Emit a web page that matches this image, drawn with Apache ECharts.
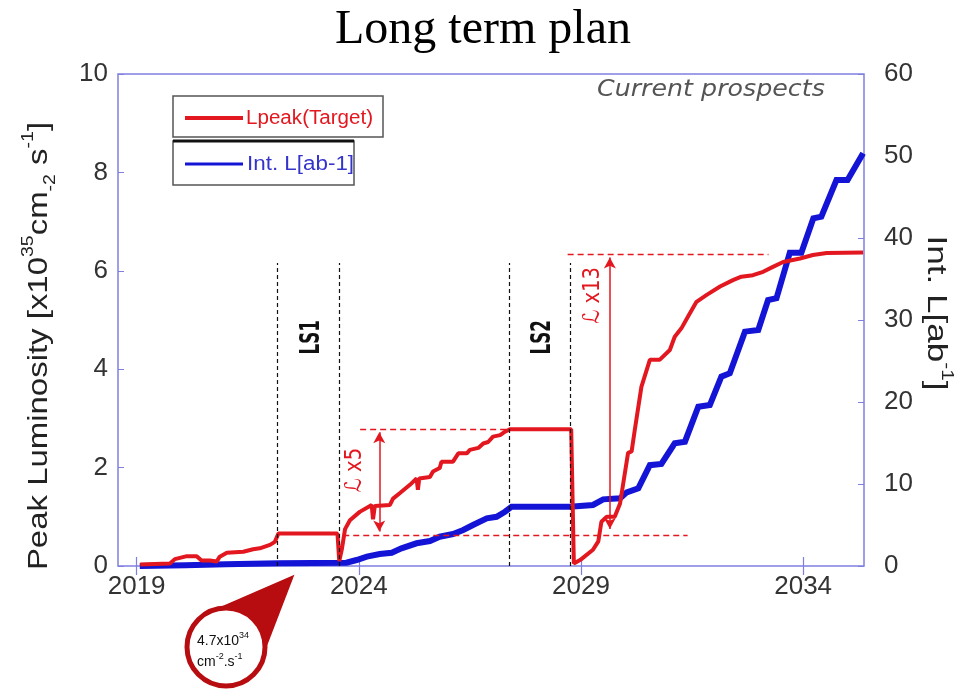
<!DOCTYPE html>
<html>
<head>
<meta charset="utf-8">
<script src="https://cdn.jsdelivr.net/npm/echarts@6/dist/echarts.min.js"></script>
<style>
  html, body { margin: 0; padding: 0; background: #ffffff; }
  #main { width: 966px; height: 692px; }
</style>
</head>
<body>
<div id="main"></div>
<script>
// Peak luminosity target (x10^35 cm^-2 s^-1) versus calendar year
const lpeakYears = [
  2019.08, 2019.75, 2019.86, 2020.13, 2020.35, 2020.46, 2020.65, 2020.80, 2020.87, 2021.03,
  2021.40, 2021.62, 2021.77, 2022.00, 2022.11, 2022.19, 2023.52, 2023.56, 2023.62, 2023.69,
  2023.80, 2024.02, 2024.29, 2024.32, 2024.36, 2024.70, 2024.77, 2024.92, 2025.15, 2025.30,
  2025.33, 2025.36, 2025.60, 2025.67, 2025.82, 2025.86, 2026.12, 2026.24, 2026.43, 2026.50,
  2026.69, 2026.80, 2026.91, 2027.02, 2027.18, 2027.29, 2027.40, 2028.78, 2028.84, 2028.98,
  2029.27, 2029.39, 2029.46, 2029.58, 2029.76, 2029.88, 2029.99, 2030.06, 2030.14, 2030.21,
  2030.36, 2030.55, 2030.77, 2031.00, 2031.11, 2031.26, 2031.41, 2031.60, 2031.83, 2032.13,
  2032.42, 2032.61, 2032.87, 2033.10, 2033.32, 2033.55, 2033.93, 2034.22, 2034.53, 2035.35
];
const lpeakValues = [
  0.03, 0.05, 0.14, 0.20, 0.20, 0.11, 0.11, 0.09, 0.19, 0.27,
  0.29, 0.34, 0.36, 0.43, 0.49, 0.66, 0.66, 0.10, 0.35, 0.75,
  0.93, 1.10, 1.24, 0.95, 1.22, 1.24, 1.37, 1.48, 1.65, 1.78,
  1.55, 1.78, 1.81, 1.92, 1.99, 2.12, 2.12, 2.29, 2.29, 2.36,
  2.40, 2.49, 2.52, 2.63, 2.66, 2.73, 2.78, 2.78, 0.05, 0.12,
  0.33, 0.50, 0.90, 1.00, 1.00, 1.27, 1.90, 2.30, 2.33, 2.76,
  3.64, 4.19, 4.19, 4.39, 4.66, 4.83, 5.07, 5.37, 5.51, 5.68,
  5.81, 5.88, 5.91, 5.98, 6.08, 6.18, 6.25, 6.32, 6.36, 6.37
];

// Integrated luminosity (ab^-1) versus calendar year
const intLYears = [
  2019.07, 2020.10, 2021.00, 2022.20, 2023.72, 2023.95, 2024.18, 2024.47, 2024.74, 2024.96,
  2025.30, 2025.60, 2025.82, 2026.12, 2026.35, 2026.57, 2026.88, 2027.10, 2027.29, 2027.44,
  2028.75, 2029.27, 2029.50, 2029.88, 2030.03, 2030.29, 2030.55, 2030.81, 2031.11, 2031.34,
  2031.64, 2031.90, 2032.16, 2032.35, 2032.69, 2032.99, 2033.21, 2033.40, 2033.70, 2033.96,
  2034.23, 2034.41, 2034.75, 2035.00, 2035.35
];
const intLValues = [
  0.0, 0.1, 0.2, 0.35, 0.4, 0.73, 1.14, 1.46, 1.62, 2.16,
  2.77, 3.05, 3.57, 3.90, 4.39, 5.00, 5.81, 6.00, 6.62, 7.23,
  7.23, 7.44, 8.13, 8.25, 8.98, 9.47, 12.3, 12.44, 14.96, 15.16,
  19.43, 19.63, 23.09, 23.5, 28.58, 28.78, 32.44, 32.65, 38.2, 38.2,
  42.4, 42.6, 47.07, 47.07, 50.33
];

// Axis ticks
const yearTicks = [2019, 2024, 2029, 2034];
const peakTicks = [0, 2, 4, 6, 8, 10];
const intTicks = [0, 10, 20, 30, 40, 50, 60];

// Long shutdowns: [start, end] years and their names
const shutdownStarts = [2022.16, 2027.38];
const shutdownEnds = [2023.55, 2028.75];
const shutdownNames = ['LS1', 'LS2'];
const shutdownLineTop = 6.16;

// Gain annotations (peak luminosity levels)
const referencePeak = 0.63;
const gainNames = ['\u2112 x5', '\u2112 x13'];
const gainPeaks = [2.78, 6.33];
const gainArrowYears = [2024.46, 2029.65];

const RED = '#e3171f';
const BLUE = '#1414d6';
const FRAME = '#7f7fe2';
const SANS = 'Liberation Sans, Arial, sans-serif';

const zip = (xs, ys) => xs.map((x, i) => [x, ys[i]]);

const chart = echarts.init(document.getElementById('main'));

const dashedRed = { type: [6, 4], color: RED, width: 1.4, opacity: 1 };
const arrowRed = { type: 'solid', color: RED, width: 1.5, opacity: 1 };
const dashedBlack = { type: [4, 3], color: '#111', width: 1.2 };

const levelLine = (x0, x1, y) => [
  { coord: [x0, y], lineStyle: dashedRed },
  { coord: [x1, y], lineStyle: dashedRed }
];
const arrowLine = (x, y0, y1) => [
  { coord: [x, y0], symbol: 'arrow', lineStyle: arrowRed, itemStyle: { color: RED } },
  { coord: [x, y1], symbol: 'arrow', lineStyle: arrowRed, itemStyle: { color: RED } }
];

// Horizontal reference levels and gain arrows (peak-luminosity axis)
const gainLines = [
  levelLine(2024.03, 2027.40, gainPeaks[0]),
  levelLine(2023.65, 2031.40, referencePeak),
  levelLine(2028.70, 2033.22, gainPeaks[1]),
  arrowLine(gainArrowYears[0], 0.70, 2.72),
  arrowLine(gainArrowYears[1], 0.75, 6.27)
];

// Shutdown boundaries (drawn on the integrated-luminosity axis, 6 units per peak unit)
const shutdownLines = shutdownStarts.concat(shutdownEnds).map(yr =>
  [{ coord: [yr, 0] }, { coord: [yr, shutdownLineTop * 6] }]
);

const xAxisBase = {
  type: 'value',
  min: 2018.58,
  max: 2035.37,
  axisLine: { show: false },
  splitLine: { show: false }
};

const option = {
  animation: false,
  backgroundColor: '#ffffff',
  title: {
    text: 'Long term plan',
    left: 'center',
    top: 1,
    textStyle: { fontFamily: 'Liberation Serif, Times New Roman, serif', fontSize: 48, fontWeight: 'normal', color: '#000' }
  },
  grid: {
    left: 118, right: 102, top: 74, bottom: 126,
    show: true, borderColor: FRAME, borderWidth: 1.5, backgroundColor: 'transparent'
  },
  xAxis: [
    Object.assign({}, xAxisBase, {
      position: 'bottom',
      axisTick: { show: true, inside: true, length: 9, customValues: yearTicks, lineStyle: { color: FRAME, width: 1.2 } },
      axisLabel: { customValues: yearTicks, formatter: v => String(v), fontSize: 26, fontFamily: SANS, color: '#333', margin: 8 }
    }),
    Object.assign({}, xAxisBase, {
      position: 'top',
      axisTick: { show: true, inside: true, length: 9, customValues: yearTicks, lineStyle: { color: FRAME, width: 1.2 } },
      axisLabel: { show: false }
    })
  ],
  yAxis: [
    {
      type: 'value', position: 'left', min: 0, max: 10, interval: 2,
      axisLine: { show: false }, splitLine: { show: false },
      axisTick: { show: true, inside: true, length: 6, customValues: peakTicks, lineStyle: { color: FRAME } },
      axisLabel: { customValues: peakTicks, fontSize: 26, fontFamily: SANS, color: '#333', margin: 10 }
    },
    {
      type: 'value', position: 'right', min: 0, max: 60, interval: 10,
      axisLine: { show: false }, splitLine: { show: false },
      axisTick: { show: true, inside: true, length: 6, customValues: intTicks, lineStyle: { color: FRAME } },
      axisLabel: { customValues: intTicks, fontSize: 26, fontFamily: SANS, color: '#333', margin: 20 }
    }
  ],
  series: [
    {
      name: 'Int. L[ab-1]',
      type: 'line',
      xAxisIndex: 0,
      yAxisIndex: 1,
      data: zip(intLYears, intLValues),
      showSymbol: false,
      symbol: 'none',
      lineStyle: { color: BLUE, width: 6, join: 'miter' },
      z: 2,
      markLine: {
        silent: true,
        symbol: 'none',
        label: { show: false },
        lineStyle: dashedBlack,
        data: shutdownLines
      }
    },
    {
      name: 'Lpeak(Target)',
      type: 'line',
      xAxisIndex: 0,
      yAxisIndex: 0,
      data: zip(lpeakYears, lpeakValues),
      showSymbol: false,
      symbol: 'none',
      lineStyle: { color: RED, width: 4 },
      z: 3,
      markLine: {
        silent: true,
        symbol: 'none',
        symbolSize: [9, 11],
        label: { show: false },
        lineStyle: dashedRed,
        itemStyle: { color: RED },
        data: gainLines
      }
    }
  ]
};

chart.setOption(option);

// Text labels and decorations placed from data coordinates
const toPx = (x, y) => chart.convertToPixel({ xAxisIndex: 0, yAxisIndex: 0 }, [x, y]);

const graphics = [];

// Shutdown names between their boundary lines
shutdownNames.forEach((name, i) => {
  const p = toPx((shutdownStarts[i] + shutdownEnds[i]) / 2 + 0.08, 4.65);
  graphics.push({
    type: 'text', x: p[0], y: p[1], rotation: Math.PI / 2, scaleX: 0.62,
    style: { text: name, fontSize: 27, fontWeight: 'bold', fontFamily: 'DejaVu Sans, sans-serif', fill: '#111', align: 'center', verticalAlign: 'middle' },
    z: 10
  });
});

// Gain labels beside the arrows
const gainLabelPos = [[2023.92, 1.95], [2029.27, 5.5]];
gainNames.forEach((name, i) => {
  const p = toPx(gainLabelPos[i][0], gainLabelPos[i][1]);
  graphics.push({
    type: 'text', x: p[0], y: p[1], rotation: Math.PI / 2, scaleX: 0.85,
    style: { text: name, fontSize: 23, fontFamily: 'DejaVu Sans, sans-serif', fill: RED, align: 'center', verticalAlign: 'middle' },
    z: 10
  });
});

// Legend boxes
graphics.push(
  { type: 'rect', shape: { x: 173, y: 96, width: 210, height: 41 }, style: { fill: '#fff', stroke: '#555', lineWidth: 1.5 }, z: 20 },
  { type: 'line', shape: { x1: 185, y1: 118, x2: 243, y2: 118 }, style: { stroke: RED, lineWidth: 4 }, z: 21 },
  { type: 'text', x: 246, y: 118, scaleX: 1.03, style: { text: 'Lpeak(Target)', fontSize: 20, fontFamily: SANS, fill: RED, align: 'left', verticalAlign: 'middle' }, z: 21 },
  { type: 'rect', shape: { x: 173, y: 141, width: 181, height: 44 }, style: { fill: '#fff', stroke: '#555', lineWidth: 1.5 }, z: 20 },
  { type: 'line', shape: { x1: 173, y1: 141, x2: 354, y2: 141 }, style: { stroke: '#111', lineWidth: 3 }, z: 21 },
  { type: 'line', shape: { x1: 185, y1: 164, x2: 243, y2: 164 }, style: { stroke: BLUE, lineWidth: 3 }, z: 21 },
  { type: 'text', x: 247, y: 164, scaleX: 1.12, style: { text: 'Int. L[ab-1]', fontSize: 20, fontFamily: SANS, fill: '#3434cc', align: 'left', verticalAlign: 'middle' }, z: 21 }
);

// Scenario note
graphics.push({
  type: 'text', x: 597, y: 90, scaleX: 1.1,
  style: { text: 'Current prospects', fontSize: 23, fontStyle: 'italic', fontFamily: 'DejaVu Sans, sans-serif', fill: '#555', align: 'left', verticalAlign: 'middle' },
  z: 10
});

// Axis names
graphics.push({
  type: 'text', x: 40, y: 346, rotation: Math.PI / 2, scaleX: 1.22,
  style: {
    text: '{n|Peak Luminosity [x10}{sp|35}{n|cm}{sb|-2}{n| s}{sp|-1}{n|]}',
    align: 'center', verticalAlign: 'middle',
    rich: {
      n: { fontSize: 27, fontFamily: SANS, fill: '#222', lineHeight: 38 },
      sp: { fontSize: 16, fontFamily: SANS, fill: '#222', verticalAlign: 'top', lineHeight: 17 },
      sb: { fontSize: 16, fontFamily: SANS, fill: '#222', verticalAlign: 'bottom', lineHeight: 17 }
    }
  },
  z: 10
});
graphics.push({
  type: 'text', x: 935, y: 313, rotation: -Math.PI / 2, scaleX: 1.3,
  style: {
    text: '{n|Int. L[ab}{sp|-1}{n|]}',
    align: 'center', verticalAlign: 'middle',
    rich: {
      n: { fontSize: 27, fontFamily: SANS, fill: '#222', lineHeight: 38 },
      sp: { fontSize: 16, fontFamily: SANS, fill: '#222', verticalAlign: 'top', lineHeight: 17 }
    }
  },
  z: 10
});

// Callout for the pre-shutdown peak luminosity
const callTip = toPx(2022.55, -0.18);
const callCenter = [226, 647];
const callR = 39;
graphics.push(
  { type: 'polygon', shape: { points: [callTip, [callCenter[0] - 22, callCenter[1] - 33], [callCenter[0] + 36, callCenter[1] + 12]] }, style: { fill: '#b80d10' }, z: 30 },
  { type: 'circle', shape: { cx: callCenter[0], cy: callCenter[1], r: callR }, style: { fill: '#fff', stroke: '#b80d10', lineWidth: 5 }, z: 31 },
  {
    type: 'text', x: 197, y: 652, z: 32,
    style: {
      text: '{a|4.7x10}{s|34}\n{a|cm}{s|-2}{a|.s}{s|-1}',
      align: 'left', verticalAlign: 'middle',
      rich: {
        a: { fontSize: 14, fontFamily: SANS, fill: '#111', lineHeight: 21 },
        s: { fontSize: 9, fontFamily: SANS, fill: '#111', verticalAlign: 'top', lineHeight: 10 }
      }
    }
  }
);

chart.setOption({ graphic: graphics });
</script>
</body>
</html>
